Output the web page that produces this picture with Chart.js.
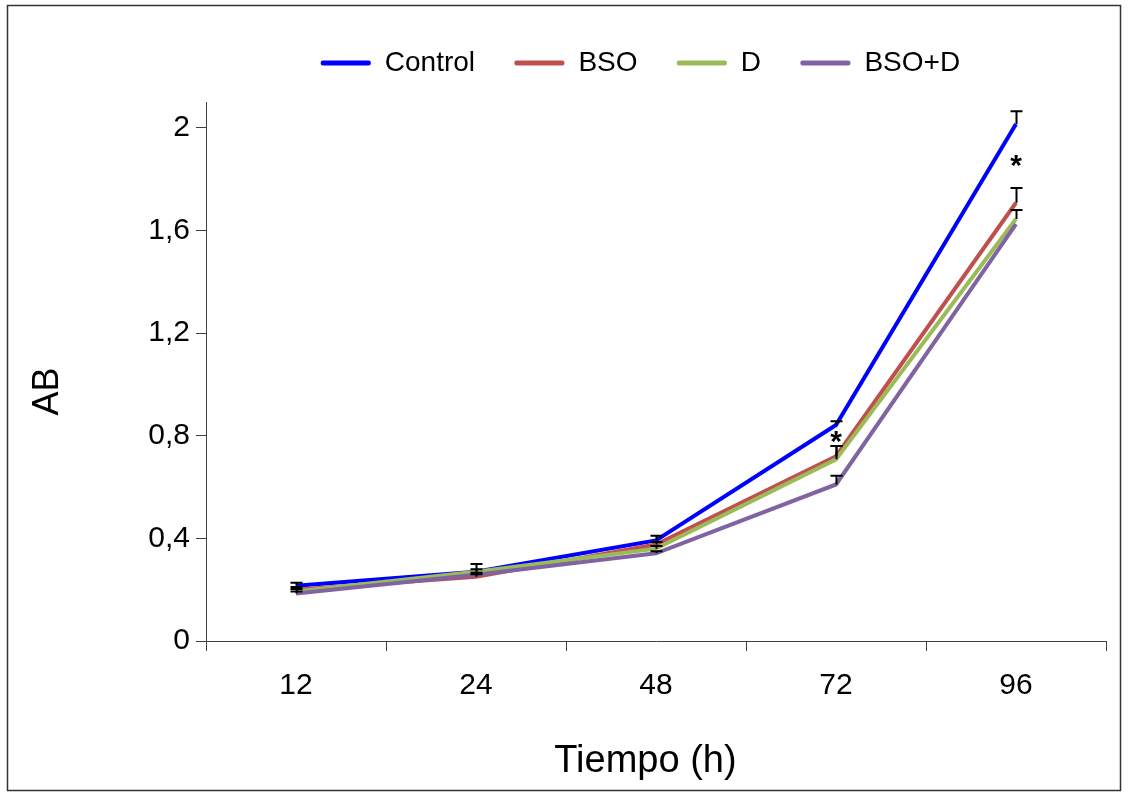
<!DOCTYPE html>
<html>
<head>
<meta charset="utf-8">
<script src="https://cdn.jsdelivr.net/npm/chart.js@4/dist/chart.umd.min.js"></script>
<style>
  html, body { margin: 0; padding: 0; background: #ffffff; }
  canvas { display: block; }
</style>
</head>
<body>
<canvas id="c" width="1128" height="796"></canvas>
<script>
// ---- data ----
const categories = ['12', '24', '48', '72', '96'];
const seriesNames = ['Control', 'BSO', 'D', 'BSO+D'];
const controlValues = [0.215, 0.270, 0.392, 0.842, 2.015];
const bsoValues     = [0.200, 0.250, 0.376, 0.720, 1.708];
const dValues       = [0.193, 0.270, 0.360, 0.708, 1.645];
const bsoDValues    = [0.185, 0.258, 0.342, 0.610, 1.625];
// upward error bars
const controlErr = [0.012, 0.030, 0.018, 0.014, 0.050];
const bsoErr     = [0.010, 0.010, 0.010, 0.040, 0.058];
const dErr       = [0.010, 0.010, 0.010, 0.052, 0.035];
const bsoDErr    = [0.008, 0.008, 0.008, 0.034, 0.000];
// significance marks
const starText   = ['', '', '', '*', '*'];
const starValues = [null, null, null, 0.795, 1.870];
const yTicks = [0, 0.4, 0.8, 1.2, 1.6, 2];

const colors = ['#0000FF', '#C0504D', '#9BBB59', '#8064A2'];
const FONT = "'Liberation Sans', Arial, sans-serif";

const valueSets = [controlValues, bsoValues, dValues, bsoDValues];
const errSets = [controlErr, bsoErr, dErr, bsoDErr];

const datasets = seriesNames.map((name, i) => ({
  label: name,
  data: valueSets[i],
  errorUp: errSets[i],
  borderColor: colors[i],
  backgroundColor: colors[i],
  borderWidth: 4,
  pointRadius: 0,
  pointHoverRadius: 0,
  tension: 0,
  fill: false,
  order: seriesNames.length - i
}));

const framePlugin = {
  id: 'frame',
  beforeDraw(chart) {
    const ctx = chart.ctx;
    ctx.save();
    ctx.fillStyle = '#ffffff';
    ctx.fillRect(0, 0, chart.width, chart.height);
    ctx.strokeStyle = '#333333';
    ctx.lineWidth = 1.5;
    ctx.strokeRect(7.5, 5.5, 1113, 785);
    ctx.restore();
  }
};

const errorBarPlugin = {
  id: 'errorBars',
  afterDatasetsDraw(chart) {
    const ctx = chart.ctx;
    const xs = chart.scales.x, ys = chart.scales.y;
    ctx.save();
    ctx.strokeStyle = '#000000';
    ctx.lineWidth = 2;
    chart.data.datasets.forEach((ds) => {
      ds.errorUp.forEach((e, j) => {
        if (!e) return;
        const px = Math.round(xs.getPixelForValue(j)) + 0.5;
        const y0 = ys.getPixelForValue(ds.data[j]);
        const y1 = ys.getPixelForValue(ds.data[j] + e);
        ctx.beginPath();
        ctx.moveTo(px, y0);
        ctx.lineTo(px, y1);
        ctx.moveTo(px - 6, y1);
        ctx.lineTo(px + 6, y1);
        ctx.stroke();
      });
    });
    ctx.fillStyle = '#000000';
    ctx.font = 'bold 30px ' + FONT;
    ctx.textAlign = 'center';
    ctx.textBaseline = 'middle';
    starText.forEach((t, j) => {
      if (!t || starValues[j] === null) return;
      ctx.fillText(t, xs.getPixelForValue(j), ys.getPixelForValue(starValues[j]) + 6);
    });
    ctx.restore();
  }
};

new Chart(document.getElementById('c'), {
  type: 'line',
  data: { labels: categories, datasets },
  plugins: [framePlugin, errorBarPlugin],
  options: {
    responsive: false,
    animation: false,
    events: [],
    layout: { padding: { top: 33, left: 100, right: 22, bottom: 10 } },
    plugins: {
      tooltip: { enabled: false },
      title: {
        display: true,
        text: ' ',
        weight: 500,
        font: { size: 1 },
        padding: { top: 7, bottom: 7 }
      },
      legend: {
        position: 'top',
        fullSize: false,
        labels: {
          color: '#000000',
          font: { family: FONT, size: 28 },
          boxWidth: 50,
          boxHeight: 5,
          padding: 16,
          useBorderRadius: true,
          borderRadius: 2,
          sort: (a, b) => a.datasetIndex - b.datasetIndex,
          generateLabels(chart) {
            const items = Chart.defaults.plugins.legend.labels.generateLabels(chart);
            items.forEach((it) => {
              it.fillStyle = it.strokeStyle;
              it.lineWidth = 0;
              it.borderRadius = 2;
              it.text = it.text + (it.datasetIndex < seriesNames.length - 1 ? '   ' : '    ');
            });
            return items;
          }
        }
      }
    },
    scales: {
      x: {
        type: 'category',
        offset: true,
        afterFit(scale) { scale.height = 145; },
        grid: {
          offset: true,
          drawOnChartArea: false,
          drawTicks: true,
          tickLength: 10,
          color: '#404040',
          lineWidth: 1
        },
        border: { display: true, color: '#404040', width: 1 },
        ticks: {
          color: '#000000',
          font: { family: FONT, size: 30 },
          padding: 17,
          maxRotation: 0
        },
        title: {
          display: true,
          text: 'Tiempo (h)  ',
          color: '#000000',
          font: { family: FONT, size: 38 },
          padding: { top: 0, bottom: 2 }
        }
      },
      y: {
        type: 'linear',
        min: 0,
        max: 2.1,
        afterFit(scale) { scale.width = 106; },
        afterBuildTicks(scale) { scale.ticks = yTicks.map((v) => ({ value: v })); },
        grid: {
          drawOnChartArea: false,
          drawTicks: true,
          tickLength: 10,
          color: '#404040',
          lineWidth: 1
        },
        border: { display: true, color: '#404040', width: 1 },
        ticks: {
          color: '#000000',
          font: { family: FONT, size: 30 },
          padding: 6,
          callback: (v) => String(Math.round(v * 10) / 10).replace('.', ',')
        },
        title: {
          display: true,
          text: 'AB    ',
          color: '#000000',
          font: { family: FONT, size: 36 },
          padding: { top: -74, bottom: 0 }
        }
      }
    }
  }
});
</script>
</body>
</html>
